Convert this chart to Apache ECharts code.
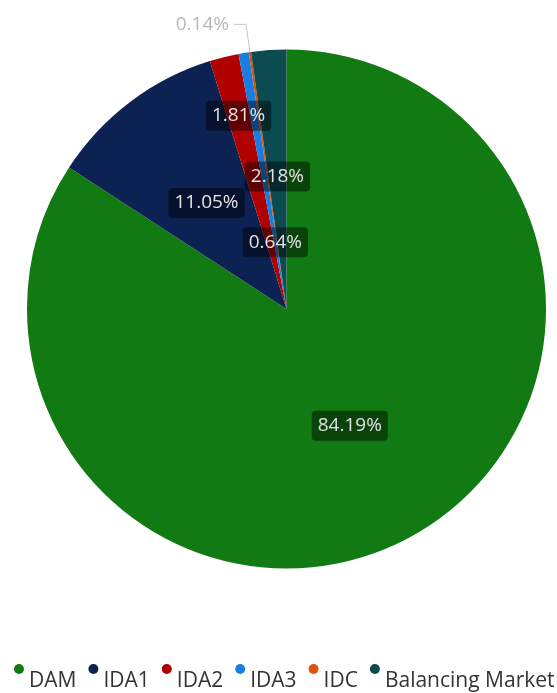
<!DOCTYPE html>
<html>
<head>
<meta charset="utf-8">
<style>
  html, body { margin: 0; padding: 0; background: #ffffff; }
  #chart { width: 557px; height: 693px; }
</style>
<script src="https://cdn.jsdelivr.net/npm/echarts@6/dist/echarts.min.js"></script>
</head>
<body>
<div id="chart"></div>
<script>
// Market share by trading segment (percent)
const categories = ['DAM', 'IDA1', 'IDA2', 'IDA3', 'IDC', 'Balancing Market'];
const shares = [84.19, 11.05, 1.81, 0.64, 0.14, 2.18];
const colors = ['#127a12', '#0b2253', '#b00000', '#1a7de0', '#e0500a', '#0c4c50'];

// Radial factor applied to each inside label so neighbouring thin slices stay readable
const labelRadialFactor = [1, 1, 1.5, 0.51, 1, 1];

const PIE_CENTER = [286.5, 309];
const PIE_RADIUS = 259.5;

const chart = echarts.init(document.getElementById('chart'), null, { renderer: 'canvas' });

const seriesData = categories.map((name, i) => {
  const item = { name: name, value: shares[i], itemStyle: { color: colors[i] } };
  if (name === 'IDC') {
    item.label = {
      position: 'outside',
      color: '#b8b8b8',
      backgroundColor: 'transparent',
      padding: 0
    };
    item.labelLine = {
      show: true,
      length: 28,
      length2: 12,
      lineStyle: { color: '#c8c8c8', width: 1 }
    };
  }
  return item;
});

chart.setOption({
  animation: false,
  textStyle: { fontFamily: 'Open Sans' },
  legend: {
    data: categories,
    top: 659,
    left: 9,
    width: 548,
    icon: 'circle',
    itemWidth: 10,
    itemHeight: 10,
    itemGap: 12,
    // legend text sits a little below its marker dot
    formatter: name => '{t|' + name + '}',
    textStyle: {
      color: '#333333',
      fontSize: 21,
      fontFamily: 'Open Sans',
      rich: {
        t: {
          color: '#333333',
          fontSize: 21,
          fontFamily: 'Open Sans',
          padding: [25, 0, 0, 0]
        }
      }
    }
  },
  series: [{
    type: 'pie',
    startAngle: 90,
    clockwise: true,
    center: PIE_CENTER,
    radius: [0, PIE_RADIUS],
    avoidLabelOverlap: false,
    data: seriesData,
    label: {
      show: true,
      position: 'inside',
      formatter: p => p.value.toFixed(2) + '%',
      color: '#e2e2e2',
      fontSize: 19,
      fontFamily: 'Open Sans',
      backgroundColor: 'rgba(0,0,0,0.45)',
      borderRadius: 4,
      padding: [6, 6, 5, 6]
    },
    labelLine: { show: false },
    emphasis: { disabled: true },
    labelLayout: function (params) {
      const k = labelRadialFactor[params.dataIndex];
      if (k === 1) return {};
      const r = params.labelRect;
      const vx = r.x + r.width / 2 - PIE_CENTER[0];
      const vy = r.y + r.height / 2 - PIE_CENTER[1];
      return { dx: (k - 1) * vx, dy: (k - 1) * vy };
    }
  }]
});
</script>
</body>
</html>
